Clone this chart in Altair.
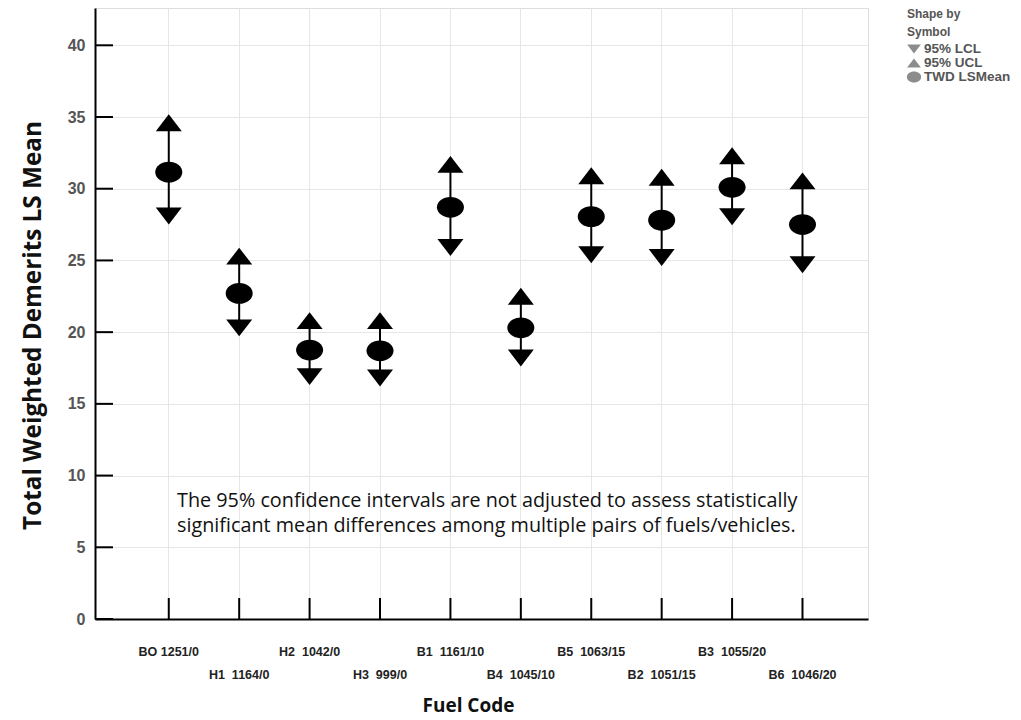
import altair as alt
import pandas as pd

fuel_codes = ["BO 1251/0", "H1\u00a0 1164/0", "H2\u00a0 1042/0", "H3\u00a0 999/0",
              "B1\u00a0 1161/10", "B4\u00a0 1045/10", "B5\u00a0 1063/15",
              "B2\u00a0 1051/15", "B3\u00a0 1055/20", "B6\u00a0 1046/20"]
ls_mean = [31.15, 22.7, 18.75, 18.7, 28.7, 20.3, 28.05, 27.8, 30.1, 27.5]
ucl_95 = [34.6, 25.3, 20.8, 20.8, 31.7, 22.5, 30.9, 30.8, 32.3, 30.55]
lcl_95 = [28.1, 20.3, 16.9, 16.8, 25.9, 18.2, 25.4, 25.2, 28.05, 24.7]
y_ticks = [0, 5, 10, 15, 20, 25, 30, 35, 40]
symbol_names = ["95% LCL", "95% UCL", "TWD LSMean"]
note_lines = ["The 95% confidence intervals are not adjusted to assess statistically",
              "significant mean differences among multiple pairs of fuels/vehicles."]

wide = pd.DataFrame({"code": fuel_codes, "mean": ls_mean, "ucl": ucl_95, "lcl": lcl_95})
long = pd.concat([
    pd.DataFrame({"code": fuel_codes, "value": lcl_95, "symbol": symbol_names[0]}),
    pd.DataFrame({"code": fuel_codes, "value": ucl_95, "symbol": symbol_names[1]}),
    pd.DataFrame({"code": fuel_codes, "value": ls_mean, "symbol": symbol_names[2]}),
], ignore_index=True)
ticks_df = pd.DataFrame({"t": y_ticks})

W, H = 773, 611
GRID = "#e6e6e6"

xscale = alt.Scale(domain=fuel_codes, padding=0.978, align=0.53)
yscale = alt.Scale(domain=[0, 42.6], nice=False, zero=True)

x_axis = alt.Axis(labels=False, ticks=False, domain=True, domainColor="black",
                  domainWidth=2, grid=True, gridColor=GRID, gridWidth=1,
                  title="Fuel Code", titleFont="Open Sans", titleFontSize=19,
                  titleFontWeight="bold", titleColor="#111", titleX=373, titleY=86,
                  titleBaseline="middle", titleAlign="center")
y_axis = alt.Axis(values=y_ticks, ticks=False, domain=True, domainColor="black",
                  domainWidth=2, grid=True, gridColor=GRID, gridWidth=1,
                  labelFont="Liberation Sans", labelFontWeight="bold", labelFontSize=16,
                  labelColor="#555", labelPadding=10,
                  title="Total Weighted Demerits LS Mean", titleFont="Open Sans",
                  titleFontSize=24.3, titleFontWeight="bold", titleColor="#111",
                  titlePadding=22, titleY=317)

x_enc = alt.X("code:N", scale=xscale, sort=fuel_codes, axis=x_axis)

up_tri = "M0,-0.65L1,0.65L-1,0.65Z"
down_tri = "M-1,-0.65L1,-0.65L0,0.65Z"
ellipse = "M-1.04,0A1.04,0.8,0,1,1,1.04,0A1.04,0.8,0,1,1,-1.04,0Z"

bars = alt.Chart(wide).mark_rule(color="black", strokeWidth=2).encode(
    x=x_enc,
    y=alt.Y("lcl:Q", scale=yscale, axis=y_axis),
    y2="ucl:Q",
)

points = alt.Chart(long).mark_point(filled=True, color="black", opacity=1, strokeWidth=0,
                                    size=676).encode(
    x=x_enc,
    y=alt.Y("value:Q", scale=yscale, axis=y_axis),
    shape=alt.Shape("symbol:N", scale=alt.Scale(domain=symbol_names, range=[down_tri, up_tri, ellipse]),
                    legend=alt.Legend(title=["Shape by", "Symbol"], orient="none",
                                      legendX=812, legendY=1,
                                      titleFont="Liberation Sans", titleFontSize=12,
                                      titleFontWeight="bold", titleColor="#555",
                                      titleLineHeight=18, titlePadding=3,
                                      labelFont="Liberation Sans", labelFontSize=13.5,
                                      labelFontWeight="bold", labelColor="#555",
                                      labelOffset=3, symbolSize=190,
                                      symbolOpacity=0.45, symbolStrokeWidth=0,
                                      rowPadding=0)),
)

ytick_marks = alt.Chart(ticks_df).mark_rule(color="black", strokeWidth=2).encode(
    y=alt.Y("t:Q", scale=yscale, axis=y_axis),
    x=alt.value(0), x2=alt.value(18),
)

xtick_marks = alt.Chart(wide).mark_rule(color="black", strokeWidth=2).encode(
    x=x_enc, y=alt.value(H), y2=alt.value(H - 21),
)

label_style = dict(font="Liberation Sans", fontWeight="bold", fontSize=12.5, color="#222", baseline="middle")
labels_top = alt.Chart(wide).transform_window(idx="row_number()").transform_filter(
    "datum.idx % 2 == 1").mark_text(**label_style).encode(
    x=x_enc, y=alt.value(H + 33), text="code:N")
labels_bot = alt.Chart(wide).transform_window(idx="row_number()").transform_filter(
    "datum.idx % 2 == 0").mark_text(**label_style).encode(
    x=x_enc, y=alt.value(H + 56), text="code:N")

note = alt.Chart(pd.DataFrame({"n": [0]})).mark_text(
    align="left", baseline="middle", font="Open Sans", fontSize=19.8, lineHeight=25,
    color="#111", text=note_lines).encode(x=alt.value(82), y=alt.value(493))

chart = alt.layer(bars, points, ytick_marks, xtick_marks, labels_top, labels_bot, note).properties(
    width=W, height=H, autosize="none",
    padding={"left": 95, "top": 8, "right": 153, "bottom": 101},
).configure_view(stroke=None).configure(background="white")

chart.save("out.html", embed_options={"renderer": "svg", "actions": False})
